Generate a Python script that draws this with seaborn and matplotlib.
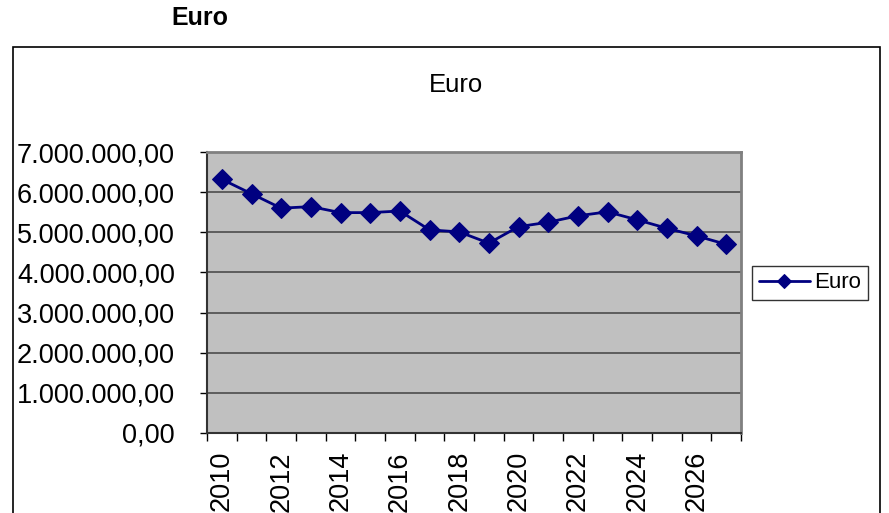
import pandas as pd
import matplotlib.pyplot as plt
import seaborn as sns
from matplotlib.patches import Rectangle
from matplotlib.ticker import FuncFormatter

years = list(range(2010, 2028))
euro = [6.32e6, 5.96e6, 5.60e6, 5.64e6, 5.49e6, 5.49e6, 5.53e6, 5.06e6, 5.01e6,
        4.73e6, 5.14e6, 5.25e6, 5.41e6, 5.51e6, 5.31e6, 5.10e6, 4.91e6, 4.70e6]
year_labels = [str(y) for y in years[::2]]

df = pd.DataFrame({'Jahr': years, 'Euro': euro})

sns.set_style('white')
plt.rcParams['font.family'] = ['Liberation Sans', 'DejaVu Sans']
plt.rcParams['text.color'] = 'black'
plt.rcParams['xtick.color'] = 'black'
plt.rcParams['ytick.color'] = 'black'

fig = plt.figure(figsize=(8.89, 5.13), dpi=100)
ax = fig.add_axes([207 / 889, 80 / 513, 534 / 889, 281 / 513])

# outer chart frame (cut off at the bottom)
fig.patches.append(Rectangle((13 / 889, -0.05), 867 / 889, 1 - 47 / 513 + 0.05,
                             transform=fig.transFigure, fill=False,
                             edgecolor='black', linewidth=1.2, zorder=0))

ax.set_facecolor('#c0c0c0')
sns.lineplot(data=df, x='Jahr', y='Euro', ax=ax, color='#000080', linewidth=2,
             marker='D', markersize=10, markeredgecolor='#000080', label='Euro')

ax.set_xlim(2009.5, 2027.5)
ax.set_ylim(0, 7e6)
ax.set_yticks([i * 1e6 for i in range(8)])
ax.yaxis.set_major_formatter(FuncFormatter(
    lambda v, p: f'{v:,.2f}'.replace(',', 'X').replace('.', ',').replace('X', '.')))
ax.grid(axis='y', color='#555555', linewidth=1.3)
ax.set_axisbelow(True)

ax.set_xticks(years[::2], year_labels, rotation=90)
ax.set_xticks([y - 0.5 for y in years] + [2027.5], minor=True)
ax.tick_params(axis='x', which='major', length=0, labelsize=19.5, pad=13)
ax.tick_params(axis='x', which='minor', length=6, width=1, color='black',
               direction='out', bottom=True)
ax.tick_params(axis='y', length=5, width=1, color='black', direction='out',
               left=True, labelsize=19.5, pad=18)
ax.set_xlabel('')
ax.set_ylabel('')

for s in ['top', 'right']:
    ax.spines[s].set_color('#808080')
    ax.spines[s].set_linewidth(2)
for s in ['left', 'bottom']:
    ax.spines[s].set_color('#333333')
    ax.spines[s].set_linewidth(1.5)

fig.text(200 / 889, 1 - 18 / 513, 'Euro', fontsize=18, fontweight='bold',
         ha='center', va='center')
fig.text(456 / 889, 1 - 85 / 513, 'Euro', fontsize=18.5, ha='center', va='center')

leg = ax.legend(loc='center left', bbox_to_anchor=(752 / 889, 1 - 283 / 513),
                bbox_transform=fig.transFigure, fontsize=16, frameon=True,
                fancybox=False, edgecolor='black', handlelength=2.3,
                borderpad=0.3, handletextpad=0.2, borderaxespad=0)
leg.get_frame().set_linewidth(1)
for h in leg.legend_handles:
    h.set_markersize(7)

fig.savefig('out.png', dpi=100)
